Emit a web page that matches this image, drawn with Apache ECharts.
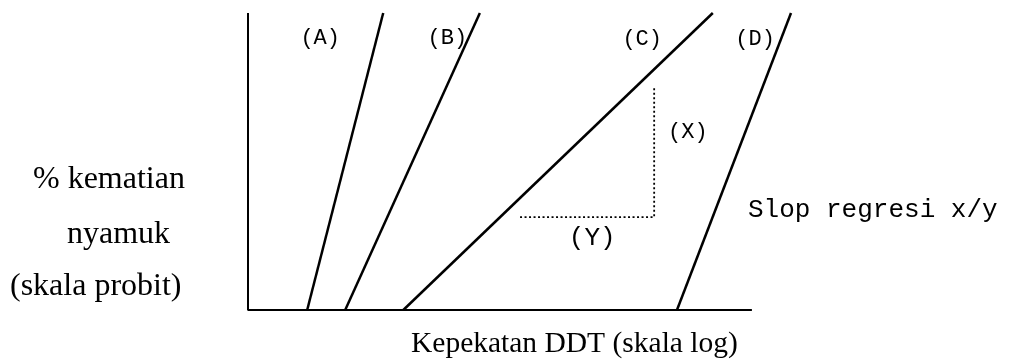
<!DOCTYPE html>
<html>
<head>
<meta charset="utf-8">
<script src="https://cdn.jsdelivr.net/npm/echarts@6/dist/echarts.min.js"></script>
<style>
  html, body { margin: 0; padding: 0; background: #ffffff; }
  #chart { width: 1020px; height: 364px; }
</style>
</head>
<body>
<div id="chart"></div>
<script>
// garis regresi probit (x = kepekatan log, y = % kematian probit), skala 0-100
const lineA = [[10.9, 0], [24.9, 100]]
const lineB = [[17.9, 0], [42.7, 100]]
const lineC = [[28.6, 0], [85.6, 100]]
const lineD = [[79.0, 0], [100, 100]]
// bingkai paksi (L)
const axisFrame = [[0, 100], [0, 0], [92.8, 0]]
// segi tiga cerun (garis titik)
const slopeX = [[74.8, 74.7], [74.8, 31.3]]
const slopeY = [[50.1, 31.3], [74.8, 31.3]]
// label huruf
const curveLabels = [
  { name: '(A)', value: [13.3, 91.6] },
  { name: '(B)', value: [36.7, 91.6] },
  { name: '(C)', value: [72.6, 91.2] },
  { name: '(D)', value: [93.4, 91.2] },
  { name: '(X)', value: [81.0, 59.9] }
]
const legLabels = [
  { name: '(Y)', value: [63.4, 24.2] }
]

const chart = echarts.init(document.getElementById('chart'))

const monoFont = '"Liberation Mono", "Courier New", monospace'
const serifFont = '"Liberation Serif", "Times New Roman", serif'

function solidLine(data, width) {
  return {
    type: 'line',
    data: data,
    symbol: 'none',
    silent: true,
    lineStyle: { color: '#000000', width: width, type: 'solid' },
    animation: false
  }
}

function dotLine(data) {
  return {
    type: 'line',
    data: data,
    symbol: 'none',
    silent: true,
    lineStyle: { color: '#000000', width: 1.8, type: [2, 2.5] },
    animation: false
  }
}

function labelSeries(data, size) {
  return {
    type: 'scatter',
    data: data,
    symbolSize: 0,
    silent: true,
    animation: false,
    // scatter default opacity 0.8 bikin label pudar
    itemStyle: { opacity: 1 },
    label: {
      show: true,
      position: 'inside',
      formatter: p => p.name,
      color: '#000000',
      opacity: 1,
      textBorderWidth: 0,
      fontFamily: monoFont,
      fontSize: size
    }
  }
}

const option = {
  backgroundColor: '#ffffff',
  grid: {
    left: 248,
    top: 13,
    width: 543,
    height: 297,
    containLabel: false
  },
  xAxis: {
    type: 'value',
    min: 0,
    max: 100,
    show: false
  },
  yAxis: {
    type: 'value',
    min: 0,
    max: 100,
    show: false
  },
  graphic: [
    // tajuk paksi-y
    { type: 'text', left: 33, top: 164, style: { text: '% kematian', font: '32px ' + serifFont, fill: '#000' } },
    { type: 'text', left: 67, top: 219, style: { text: 'nyamuk', font: '32px ' + serifFont, fill: '#000' } },
    { type: 'text', left: 10, top: 271, style: { text: '(skala probit)', font: '32px ' + serifFont, fill: '#000' } },
    // tajuk paksi-x
    { type: 'text', left: 411, top: 329, style: { text: 'Kepekatan DDT (skala log)', font: '29.5px ' + serifFont, fill: '#000' } },
    // keterangan cerun
    { type: 'text', left: 748, top: 197, style: { text: 'Slop regresi x/y', font: '26px ' + monoFont, fill: '#000' } }
  ],
  series: [
    solidLine(axisFrame, 2),
    solidLine(lineA, 2.5),
    solidLine(lineB, 2.5),
    solidLine(lineC, 2.5),
    solidLine(lineD, 2.5),
    dotLine(slopeX),
    dotLine(slopeY),
    labelSeries(curveLabels, 22),
    labelSeries(legLabels, 26)
  ]
}

chart.setOption(option)
</script>
</body>
</html>
